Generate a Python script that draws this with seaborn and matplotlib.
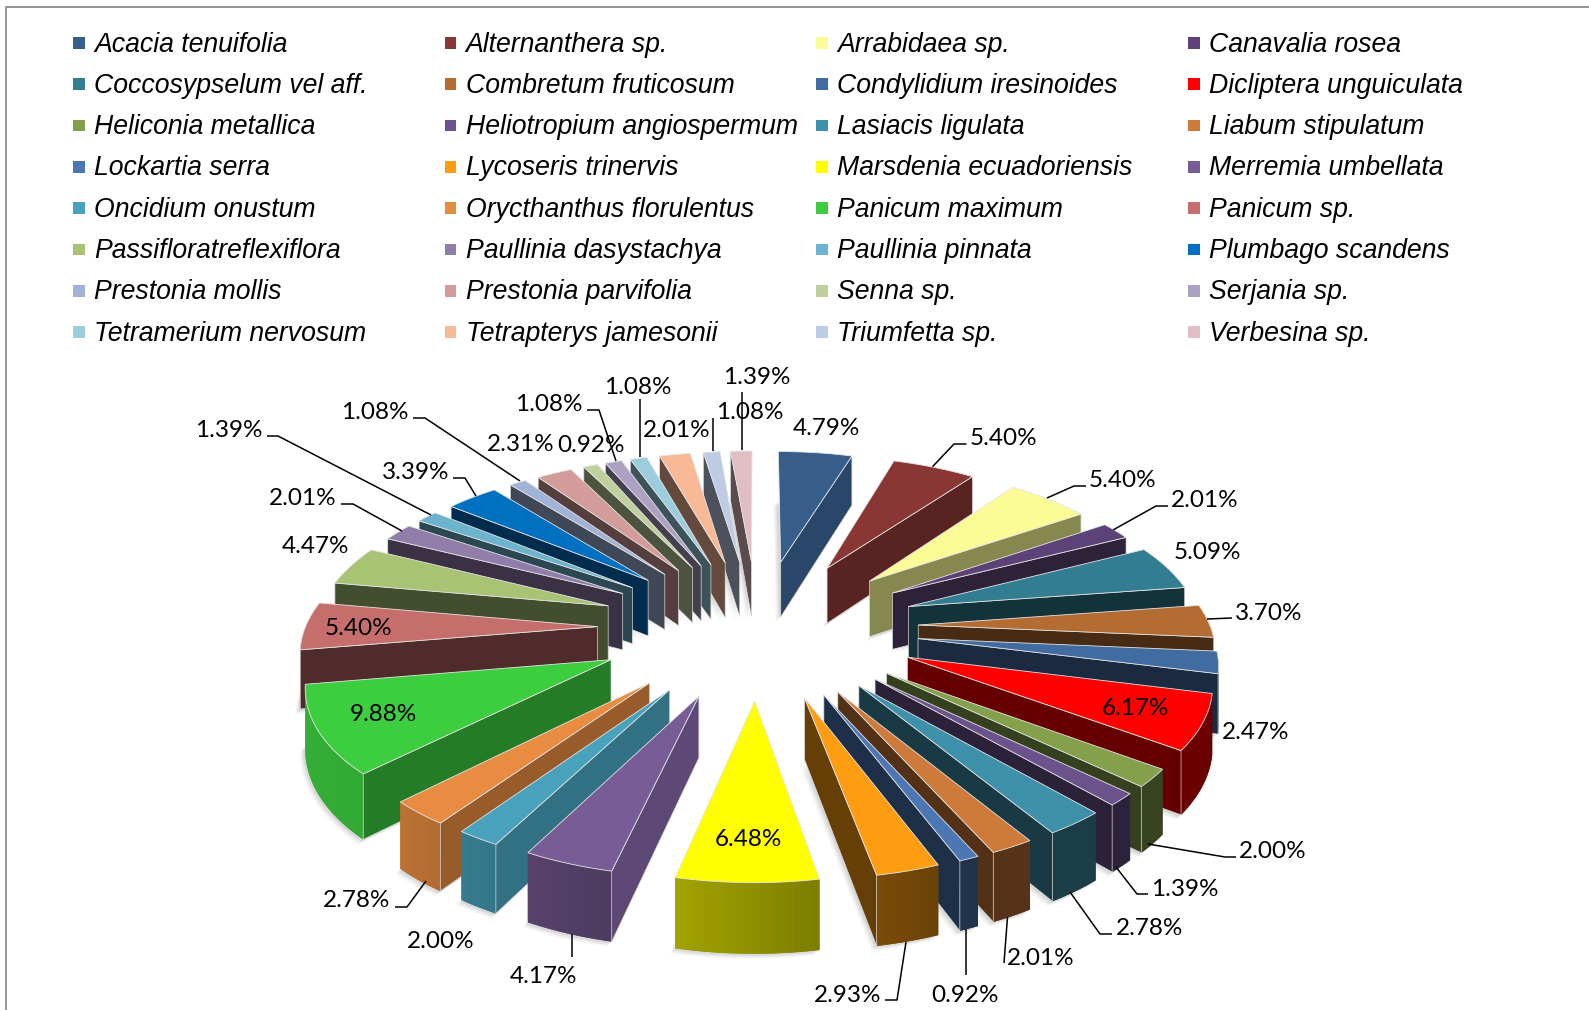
# 3D exploded pie of species share, legend on top
import numpy as np
import pandas as pd
import matplotlib
matplotlib.use("Agg")
import matplotlib.pyplot as plt
from matplotlib.patches import Polygon
import seaborn as sns

species = ["Acacia tenuifolia", "Alternanthera sp.", "Arrabidaea sp.", "Canavalia rosea",
           "Coccosypselum vel aff.", "Combretum fruticosum", "Condylidium iresinoides", "Dicliptera unguiculata",
           "Heliconia metallica", "Heliotropium angiospermum", "Lasiacis ligulata", "Liabum stipulatum",
           "Lockartia serra", "Lycoseris trinervis", "Marsdenia ecuadoriensis", "Merremia umbellata",
           "Oncidium onustum", "Orycthanthus florulentus", "Panicum maximum", "Panicum sp.",
           "Passifloratreflexiflora", "Paullinia dasystachya", "Paullinia pinnata", "Plumbago scandens",
           "Prestonia mollis", "Prestonia parvifolia", "Senna sp.", "Serjania sp.",
           "Tetramerium nervosum", "Tetrapterys jamesonii", "Triumfetta sp.", "Verbesina sp."]

shares = [4.79, 5.40, 5.40, 2.01, 5.09, 3.70, 2.47, 6.17,
          2.00, 1.39, 2.78, 2.01, 0.92, 2.93, 6.48, 4.17,
          2.00, 2.78, 9.88, 5.40, 4.47, 2.01, 1.39, 3.39,
          1.08, 2.31, 0.92, 1.08, 1.08, 2.01, 1.08, 1.39]

colors = ["#375D8A", "#8A3634", "#FCFC96", "#5C4276",
          "#327D91", "#B46C32", "#416CA2", "#FF0000",
          "#84A04B", "#6C528C", "#3E91AA", "#CD7A3A",
          "#4B78B4", "#FF9D12", "#FFFF00", "#785C96",
          "#48A2BC", "#E88C41", "#3DCE40", "#C66E6B",
          "#A8C373", "#917DAA", "#6CB4CD", "#0070C0",
          "#A0B2D7", "#D49B9B", "#BED09B", "#ACA0C3",
          "#9BCDDE", "#F7B996", "#BECBE4", "#E1BEC3"]

# label centres, measured on the 1568 wide view
label_pos = [(815, 421), (990, 431), (1108, 472), (1189, 492), (1191, 543), (1252, 603), (1239, 721), (1120, 697),
             (1256, 838), (1169, 876), (1134, 914), (1027, 944), (952, 980), (836, 980), (739, 826), (536, 962),
             (435, 927), (352, 887), (378, 703), (354, 618), (311, 537), (299, 490), (226, 423), (410, 464),
             (370, 405), (514, 437), (583, 438), (542, 397), (629, 380), (668, 423), (740, 405), (747, 371)]

# leader lines in full size pixels
leaders = [[(932.5, 466.7), (954, 444), (966.5, 444)], [(1047, 498), (1074, 486), (1086, 486)],
           [(1113, 530), (1156, 506), (1168, 506)], [(1207, 619), (1232, 618)],
           [(1148, 844), (1225, 857), (1236, 857)], [(1116, 867), (1137, 894), (1148, 894)],
           [(1070, 892), (1100, 934), (1112, 934)], [(1007.5, 917), (1004, 963)],
           [(966, 929), (966, 975)], [(906, 942), (897, 1000), (885, 1000)],
           [(572, 934), (572, 957)], [(426, 881), (407, 907), (395, 907)],
           [(431, 515), (278, 436), (267, 436)], [(520, 481), (425, 418), (413, 418)],
           [(402, 531), (353, 504), (341, 504)], [(476, 496), (465, 478), (453, 478)],
           [(616, 461), (599, 410), (587, 410)], [(640, 457), (640, 399)],
           [(713, 451), (713, 418)], [(742, 450), (742, 392)]]

# view of the pie, fitted to the picture
CX, CY, RX, RY, PERSP, EXPLODE_X, EXPLODE_Y, DEPTH = 758, 627, 292, 139, 0.123, 0.55, 0.5, 58


def project(x, y):
    w = 1 / (1 - PERSP * y)
    return CX + RX * x * w, CY + RY * y * w, w


def edge_shade(normal):
    return np.clip(0.8 - 0.4 * (normal - 100) / 70, 0.4, 0.8)


def rim_shade(a):
    return np.interp(a, [160, 180, 200, 225, 260], [0.42, 0.56, 0.68, 0.82, 0.86])


def darker(color, f):
    return tuple(np.array(matplotlib.colors.to_rgb(color)) * f)


sns.set_theme(style="white")
plt.rcParams["font.family"] = ["Liberation Sans", "DejaVu Sans"]

fig = plt.figure(figsize=(15.89, 10.10), dpi=100)
ax = fig.add_axes([0, 0, 1, 1])
ax.set_xlim(0, 1589)
ax.set_ylim(1010, 0)
ax.axis("off")

ax.plot([6, 6, 1589], [1010, 7, 7], color="#8c8c8c", lw=1.3, zorder=1)

# legend: grid of squares with italic names
legend = pd.DataFrame({"species": species,
                       "col": [i % 4 for i in range(len(species))],
                       "row": [i // 4 for i in range(len(species))]})
legend["x"] = 79 + legend["col"] * 371.6
legend["y"] = 43 + legend["row"] * 41.3
sns.scatterplot(data=legend, x="x", y="y", hue="species", palette=colors, marker="s",
                s=72, linewidth=0, legend=False, ax=ax, zorder=3)
for _, r in legend.iterrows():
    ax.text(r["x"] + 15, r["y"] + 1.5, r["species"], style="italic", fontsize=19.2, va="center", ha="left",
            color="black", family="Liberation Sans")
ax.set_xlabel("")
ax.set_ylabel("")

# slice angles, clockwise from twelve o'clock
values = np.array(shares)
ends = np.cumsum(values) / values.sum() * 360
starts = np.r_[0, ends[:-1]]
mids = (starts + ends) / 2

# shadows first so they sit under everything
for a0, a1, am in zip(starts, ends, mids):
    ex, ey = EXPLODE_X * np.sin(np.radians(am)), -EXPLODE_Y * np.cos(np.radians(am))
    th = np.radians(np.linspace(a0, a1, 30))
    xs = np.r_[ex, ex + np.sin(th)]
    ys = np.r_[ey, ey - np.cos(th)]
    sx, sy, w = project(xs, ys)
    for off, al in [(5, 0.05), (3.5, 0.08), (2, 0.1)]:
        ax.add_patch(Polygon(np.c_[sx - off, sy + DEPTH * w + off], closed=True, fc="#555555",
                             ec="none", alpha=al, zorder=2))

# painter's order, back slices first
order = np.argsort(-np.cos(np.radians(mids)))
for z, i in enumerate(order):
    a0, a1, am, col = starts[i], ends[i], mids[i], colors[i]
    base = 4 + z * 0.01
    ex, ey = EXPLODE_X * np.sin(np.radians(am)), -EXPLODE_Y * np.cos(np.radians(am))
    th = np.radians(np.linspace(a0, a1, 30))
    xs, ys = ex + np.sin(th), ey - np.cos(th)
    sx, sy, w = project(xs, ys)
    ax_, ay_, aw_ = project(ex, ey)

    # outer rim, only on the near half: flat base, then gradient strips
    if a1 > 90 and a0 < 270:
        keep = (np.degrees(th) >= 90) & (np.degrees(th) <= 270)
        if keep.sum() > 1:
            top = np.c_[sx[keep], sy[keep]]
            bot = np.c_[sx[keep], sy[keep] + DEPTH * w[keep]]
            f = rim_shade(np.degrees(th[keep].mean()))
            ax.add_patch(Polygon(np.r_[top, bot[::-1]], closed=True, fc=darker(col, f), ec="none", zorder=base))
            for k in range(len(top) - 1):
                f = rim_shade(np.degrees(th[keep][k:k + 2].mean()))
                quad = np.r_[top[k:k + 2], bot[k:k + 2][::-1]]
                ax.add_patch(Polygon(quad, closed=True, fc=darker(col, f), ec="none", zorder=base))

    # cut faces
    if a1 < 180:
        quad = [(ax_, ay_), (sx[-1], sy[-1]), (sx[-1], sy[-1] + DEPTH * w[-1]), (ax_, ay_ + DEPTH * aw_)]
        ax.add_patch(Polygon(quad, closed=True, fc=darker(col, edge_shade((a1 + 90) % 360)),
                             ec="#d8d8d8", lw=0.5, zorder=base + 0.001))
    if a0 > 180:
        quad = [(ax_, ay_), (sx[0], sy[0]), (sx[0], sy[0] + DEPTH * w[0]), (ax_, ay_ + DEPTH * aw_)]
        ax.add_patch(Polygon(quad, closed=True, fc=darker(col, edge_shade((a0 - 90) % 360)),
                             ec="#d8d8d8", lw=0.5, zorder=base + 0.001))

    # top face
    ax.add_patch(Polygon(np.c_[np.r_[ax_, sx], np.r_[ay_, sy]], closed=True, fc=col, ec="#e4e4e4",
                         lw=0.6, zorder=base + 0.002))

# data labels
scale = 1589 / 1568
for v, (lx, ly) in zip(shares, label_pos):
    ax.text(lx * scale, ly * scale + 2, f"{v:.2f}%", fontsize=17.5, ha="center", va="center",
            color="black", family="Lato", zorder=20)
for pts in leaders:
    pts = np.array(pts)
    ax.plot(pts[:, 0], pts[:, 1], color="black", lw=1.1, zorder=19, solid_capstyle="butt")

fig.savefig("out.png", dpi=100)
